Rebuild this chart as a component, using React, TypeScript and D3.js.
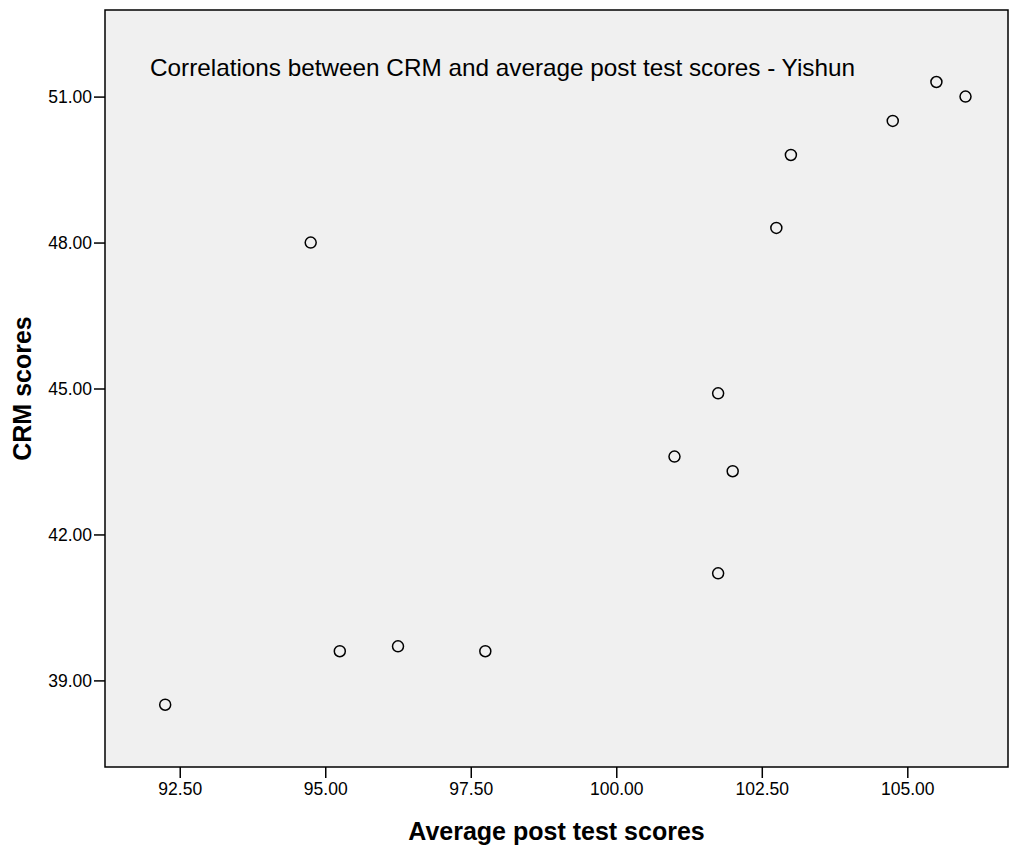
import React, { useEffect, useRef } from "react";
import * as d3 from "d3";

// Average post test score vs CRM score, one point per class
const postScores = [92.25, 94.75, 95.25, 96.25, 97.75, 101.75, 101.0, 102.0, 101.75, 102.75, 103.0, 104.75, 105.5, 106.0];
const crmScores = [38.5, 48.0, 39.6, 39.7, 39.6, 44.9, 43.6, 43.3, 41.2, 48.3, 49.8, 50.5, 51.3, 51.0];

const xTicks = [92.5, 95, 97.5, 100, 102.5, 105];
const yTicks = [39, 42, 45, 48, 51];

const title = "Correlations between CRM and average post test scores - Yishun";
const xLabel = "Average post test scores";
const yLabel = "CRM scores";

const App = () => {
  const svgRef = useRef<SVGSVGElement>(null);

  useEffect(() => {
    const width = 1010;
    const height = 848;
    const m = { left: 105, right: 1008, top: 10, bottom: 767 };
    const font = "Arial, 'Liberation Sans', sans-serif";

    const svg = d3.select(svgRef.current);
    svg.selectAll("*").remove();
    svg.attr("width", width).attr("height", height);

    const x = d3.scaleLinear().domain([91.216, 106.73]).range([m.left, m.right]);
    const y = d3.scaleLinear().domain([37.22, 52.78]).range([m.bottom, m.top]);

    svg
      .append("rect")
      .attr("x", m.left)
      .attr("y", m.top)
      .attr("width", m.right - m.left)
      .attr("height", m.bottom - m.top)
      .attr("fill", "#f0f0f0")
      .attr("stroke", "#000")
      .attr("stroke-width", 1.5);

    const xAxis = svg
      .append("g")
      .attr("transform", `translate(0,${m.bottom})`)
      .call(
        d3.axisBottom(x).tickValues(xTicks).tickSize(11).tickPadding(5).tickFormat(d3.format(".2f"))
      );
    const yAxis = svg
      .append("g")
      .attr("transform", `translate(${m.left},0)`)
      .call(
        d3.axisLeft(y).tickValues(yTicks).tickSize(11).tickPadding(2).tickFormat(d3.format(".2f"))
      );

    [xAxis, yAxis].forEach((a) => {
      a.select(".domain").remove();
      a.selectAll(".tick line").attr("stroke", "#000").attr("stroke-width", 1.5);
      a.selectAll(".tick text")
        .attr("fill", "#000")
        .style("font-family", font)
        .style("font-size", "17.5px");
    });

    svg
      .append("text")
      .attr("x", 150)
      .attr("y", 76)
      .attr("textLength", 705)
      .attr("lengthAdjust", "spacingAndGlyphs")
      .style("font-family", font)
      .style("font-size", "24px")
      .text(title);

    svg
      .append("g")
      .selectAll("circle")
      .data(postScores.map((p, i) => ({ p, c: crmScores[i] })))
      .enter()
      .append("circle")
      .attr("cx", (d) => x(d.p))
      .attr("cy", (d) => y(d.c))
      .attr("r", 5.5)
      .attr("fill", "none")
      .attr("stroke", "#000")
      .attr("stroke-width", 1.5);

    svg
      .append("text")
      .attr("x", (m.left + m.right) / 2)
      .attr("y", 840)
      .attr("text-anchor", "middle")
      .style("font-family", font)
      .style("font-size", "25px")
      .style("font-weight", "bold")
      .text(xLabel);

    svg
      .append("text")
      .attr("transform", `translate(31,${(m.top + m.bottom) / 2}) rotate(-90)`)
      .attr("text-anchor", "middle")
      .style("font-family", font)
      .style("font-size", "25px")
      .style("font-weight", "bold")
      .text(yLabel);
  }, []);

  return (
    <div style={{ position: "absolute", left: 0, top: 0, background: "#fff" }}>
      <svg ref={svgRef} style={{ display: "block" }}></svg>
    </div>
  );
};

export default App;
